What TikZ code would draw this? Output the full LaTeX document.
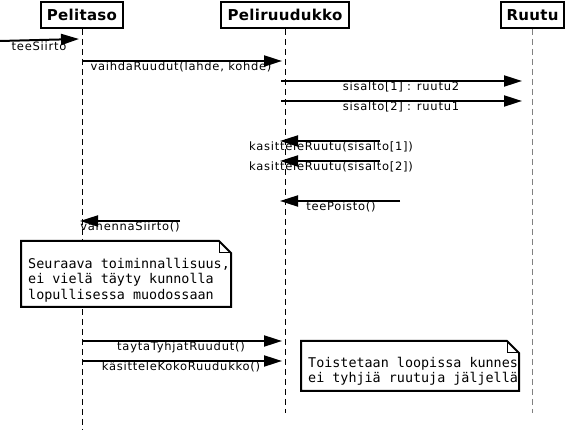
\documentclass[tikz,border=0pt]{standalone}
\usepackage{fontspec}
\setmainfont{DejaVu Sans}
\setmonofont{DejaVu Sans Mono}
\usetikzlibrary{arrows.meta}

\begin{document}
\begin{tikzpicture}
    [
    x=1pt, y=-1pt,
    olio/.style={draw,line width=2pt,minimum height=26pt,inner sep=0pt,font=\fontsize{15}{17}\selectfont\bfseries\addfontfeature{LetterSpace=2}},
    elinkaari/.style={dash pattern=on 6pt off 4pt,line width=1pt},
    viesti/.style={line width=2pt,-{Triangle[length=18pt,width=11pt]}},
    nimi/.style={anchor=base,inner sep=0pt,font=\fontsize{11.5}{12}\selectfont\addfontfeature{LetterSpace=6.5}},
    muistio/.style={line width=2pt,fill=white},
    teksti/.style={anchor=north west,inner sep=0pt,align=left,font=\fontsize{13.4}{15.5}\selectfont\ttfamily}
    ]
    \useasboundingbox (0,0) rectangle (566,430);

    % oliot ja elinkaaret
    \node[olio,minimum width=82pt] (pelitaso) at (82,15) {Pelitaso};
    \node[olio,minimum width=128pt] (peliruudukko) at (285,15) {Peliruudukko};
    \node[olio,minimum width=63pt] (ruutu) at (532.5,15) {Ruutu};
    \coordinate (pelitaso loppu) at (82,430);
    \coordinate (peliruudukko loppu) at (285,413);
    \coordinate (ruutu loppu) at (532.5,413);
    \draw[elinkaari] (pelitaso) -- (pelitaso loppu);
    \draw[elinkaari] (peliruudukko) -- (peliruudukko loppu);
    \draw[elinkaari,gray] (ruutu) -- (ruutu loppu);

    % viestit
    \coordinate (alku) at (0,41);
    \coordinate (p0) at (79,39);
    \draw[viesti] (alku) -- (p0);
    \node[nimi] (teeSiirto) at (39,51) {teeSiirto};

    \coordinate (p1) at (82,61);
    \coordinate (g1) at (282,61);
    \draw[viesti] (p1) -- (g1);
    \node[nimi] (vaihda) at (181,71) {vaihdaRuudut(lahde, kohde)};

    \coordinate (g2) at (281,81);
    \coordinate (r2) at (522,81);
    \draw[viesti] (g2) -- (r2);
    \node[nimi] (sisalto1) at (401,91) {sisalto[1] : ruutu2};

    \coordinate (g3) at (281,101);
    \coordinate (r3) at (522,101);
    \draw[viesti] (g3) -- (r3);
    \node[nimi] (sisalto2) at (401,111) {sisalto[2] : ruutu1};

    \coordinate (k4) at (380,141);
    \coordinate (g4) at (280,141);
    \draw[viesti] (k4) -- (g4);
    \node[nimi] (kasittele1) at (331,151) {kasitteleRuutu(sisalto[1])};

    \coordinate (k5) at (380,161);
    \coordinate (g5) at (280,161);
    \draw[viesti] (k5) -- (g5);
    \node[nimi] (kasittele2) at (331,171) {kasitteleRuutu(sisalto[2])};

    \coordinate (k6) at (400,201);
    \coordinate (g6) at (280,201);
    \draw[viesti] (k6) -- (g6);
    \node[nimi] (teePoisto) at (341,211) {teePoisto()};

    \coordinate (k7) at (180,221);
    \coordinate (p7) at (80,221);
    \draw[viesti] (k7) -- (p7);
    \node[nimi] (vahenna) at (130,231) {vahennaSiirto()};

    % huomautus 1
    \draw[muistio] (21,241) -- (219,241) -- (231,253) -- (231,307) -- (21,307) -- cycle;
    \draw[line width=1pt] (219,241) -- (219,253) -- (231,253);
    \node[teksti] (huom1) at (28,258) {Seuraava toiminnallisuus,\\ei vielä täyty kunnolla\\lopullisessa muodossaan};

    \coordinate (p8) at (82,341);
    \coordinate (g8) at (282,341);
    \draw[viesti] (p8) -- (g8);
    \node[nimi] (tayta) at (181,351) {taytaTyhjatRuudut()};

    \coordinate (p9) at (82,361);
    \coordinate (g9) at (282,361);
    \draw[viesti] (p9) -- (g9);
    \node[nimi] (kokoRuudukko) at (181,371) {käsitteleKokoRuudukko()};

    % huomautus 2
    \draw[muistio] (301,341) -- (507,341) -- (519,353) -- (519,391) -- (301,391) -- cycle;
    \draw[line width=1pt] (507,341) -- (507,353) -- (519,353);
    \node[teksti] (huom2) at (308,357) {Toistetaan loopissa kunnes\\ei tyhjiä ruutuja jäljellä};
\end{tikzpicture}
\end{document}
